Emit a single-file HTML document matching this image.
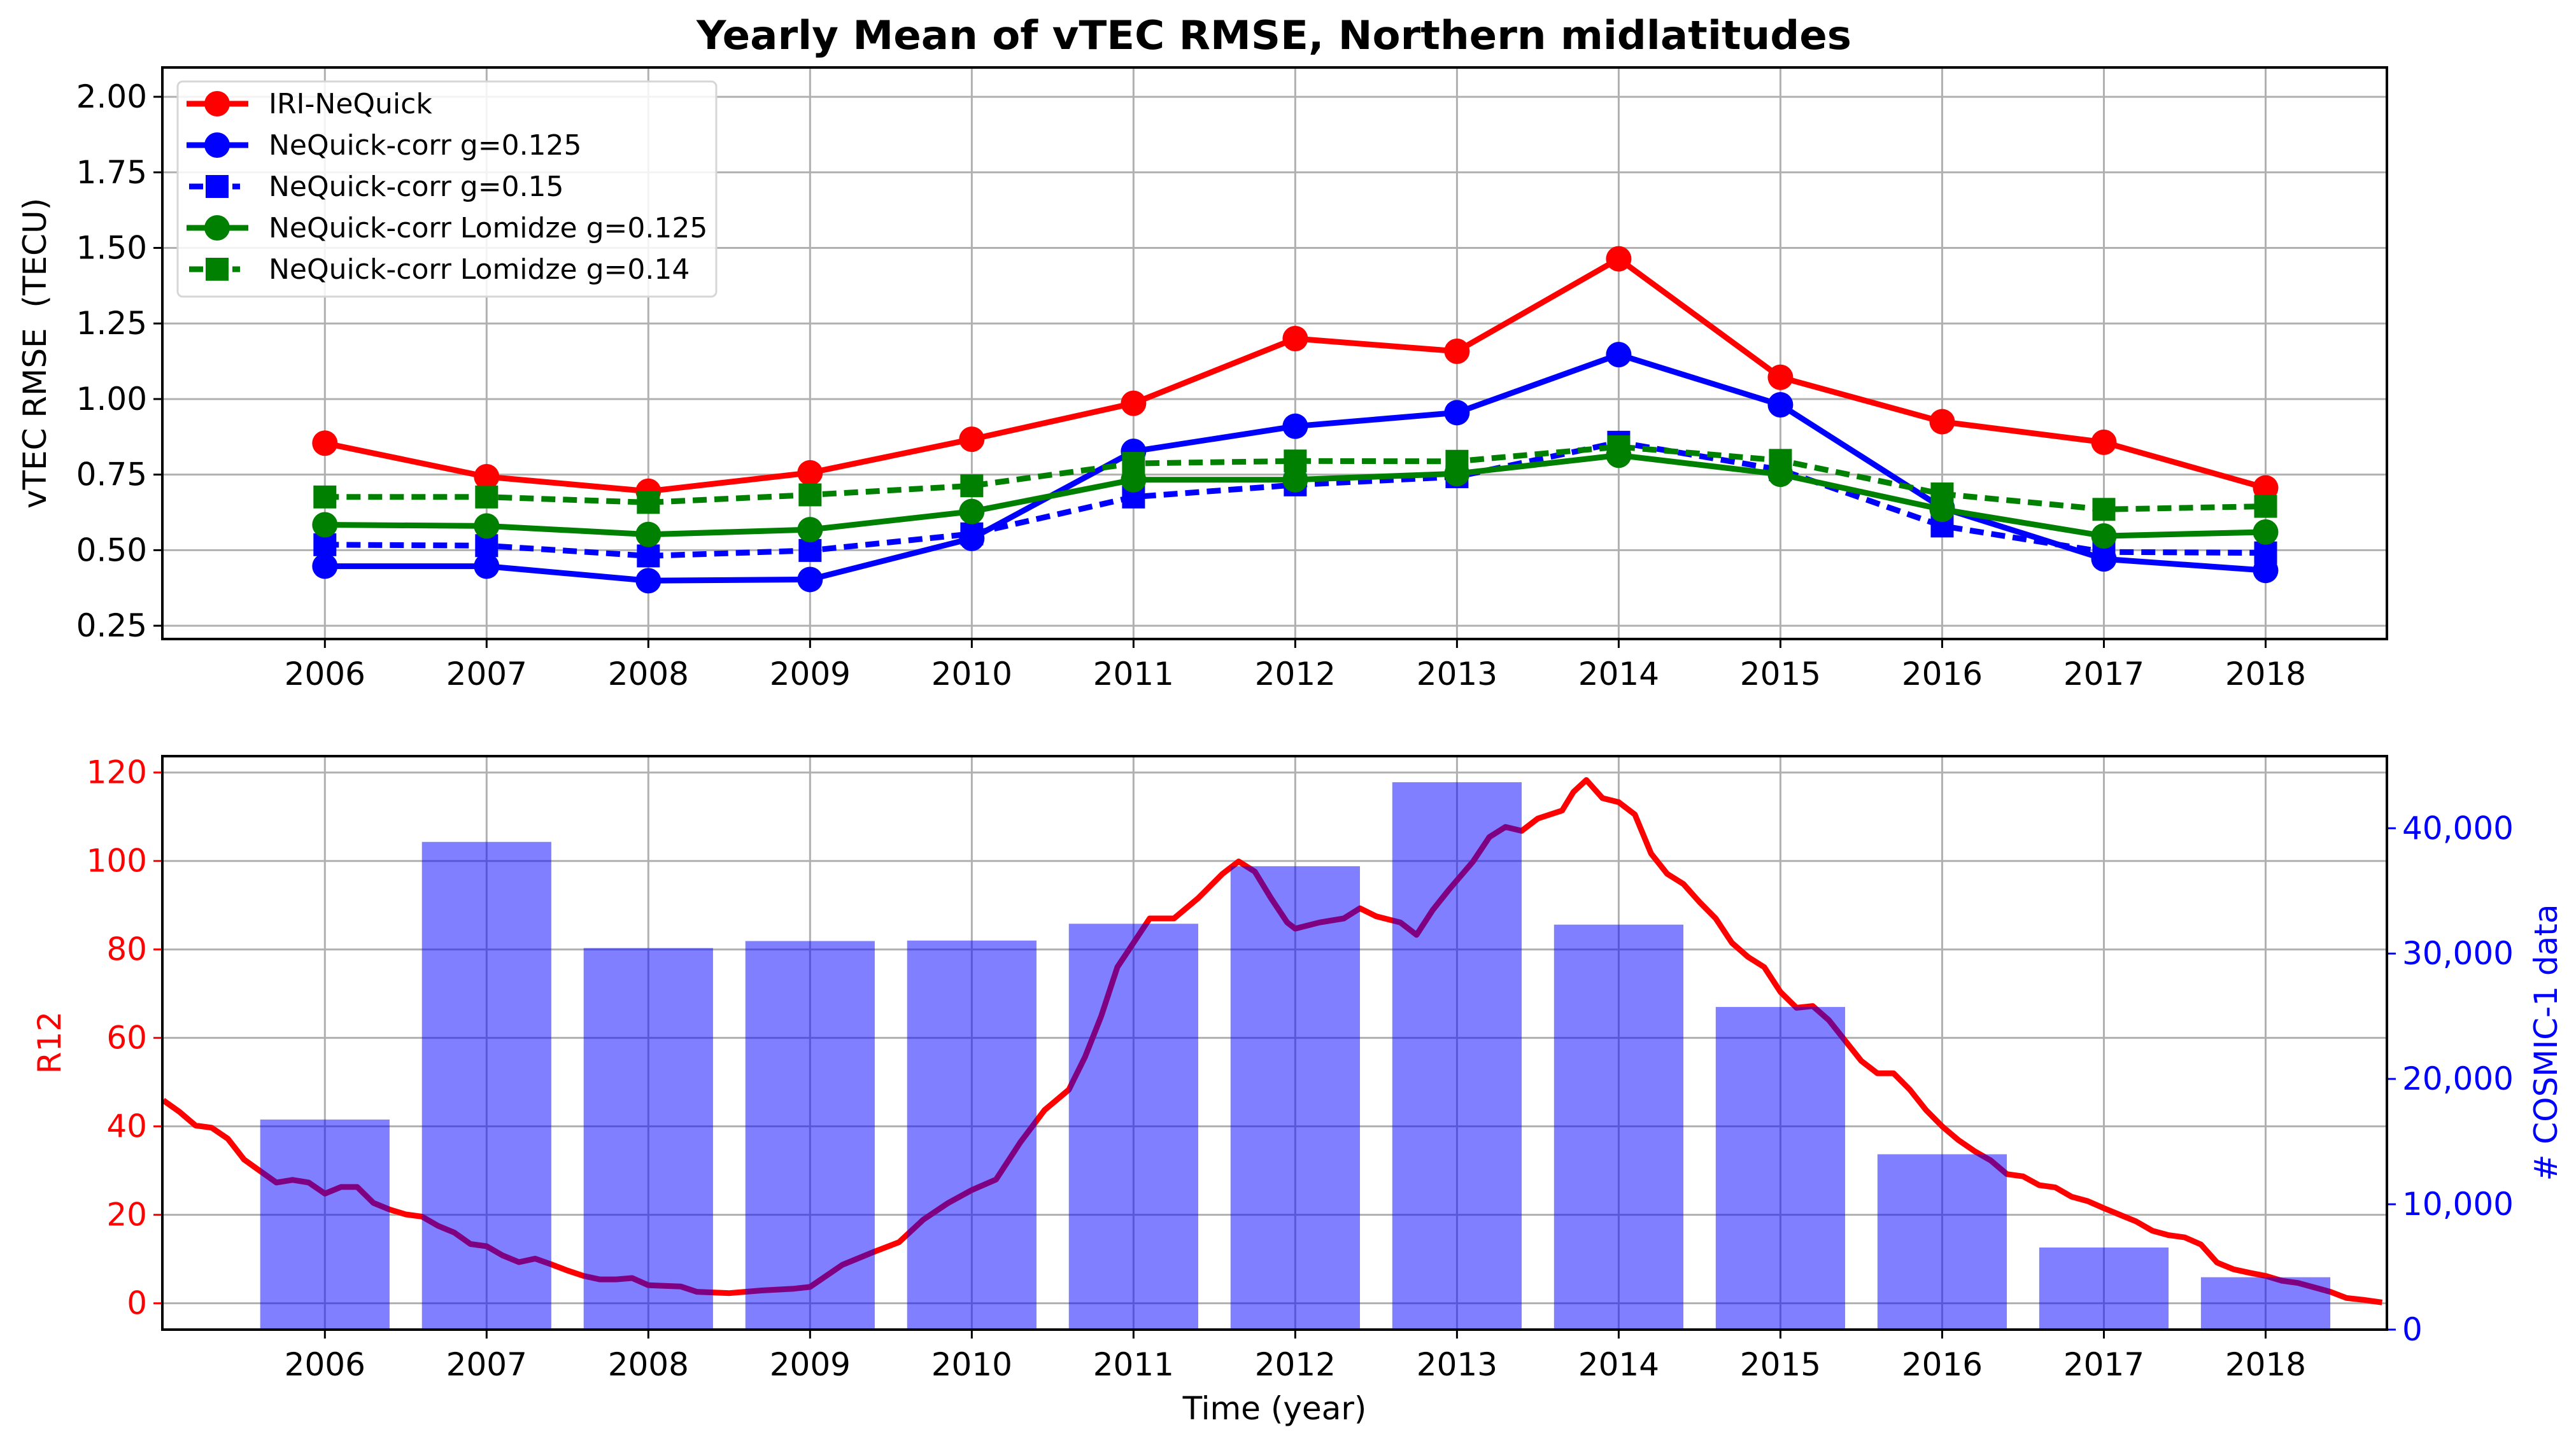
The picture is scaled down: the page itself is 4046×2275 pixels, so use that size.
<!DOCTYPE html>
<html><head><meta charset="utf-8"><style>
html,body{margin:0;padding:0;background:#fff;}
svg{display:block;font-family:"DejaVu Sans","Liberation Sans",sans-serif;}
</style></head><body>
<svg id="fig" xmlns="http://www.w3.org/2000/svg" width="4046" height="2275" viewBox="0 0 4046 2275">
<rect width="4046" height="2275" fill="#fff"/>
<text x="2001" y="77" text-anchor="middle" font-size="62" font-weight="bold" textLength="1814" lengthAdjust="spacingAndGlyphs">Yearly Mean of vTEC RMSE, Northern midlatitudes</text>
<g id="topPanel"></g>
<g id="botPanel"></g>
</svg>
<script>
const years = [2006,2007,2008,2009,2010,2011,2012,2013,2014,2015,2016,2017,2018];
const iriNeQuick = [0.854,0.743,0.695,0.756,0.867,0.986,1.200,1.158,1.464,1.072,0.925,0.857,0.706];
const corr125 = [0.447,0.447,0.399,0.403,0.539,0.827,0.910,0.955,1.147,0.981,0.640,0.471,0.433];
const corr15 = [0.518,0.515,0.481,0.499,0.554,0.676,0.716,0.743,0.857,0.766,0.580,0.494,0.491];
const lom125 = [0.584,0.580,0.552,0.568,0.628,0.733,0.733,0.753,0.814,0.751,0.635,0.547,0.560];
const lom14 = [0.676,0.676,0.658,0.683,0.713,0.787,0.795,0.794,0.842,0.797,0.686,0.635,0.645];
const topTicks = [0.25,0.50,0.75,1.00,1.25,1.50,1.75,2.00];
const topTickLabels = ["0.25","0.50","0.75","1.00","1.25","1.50","1.75","2.00"];
const cosmicCounts = [16760,38910,30440,31000,31040,32380,36970,43670,32310,25740,13990,6550,4180];
const r12Time = [2005.0,2005.1,2005.2,2005.3,2005.4,2005.5,2005.6,2005.7,2005.8,2005.9,2006.0,2006.1,2006.2,2006.3,2006.4,2006.5,2006.6,2006.7,2006.8,2006.9,2007.0,2007.1,2007.2,2007.3,2007.4,2007.5,2007.6,2007.7,2007.8,2007.9,2008.0,2008.2,2008.3,2008.5,2008.7,2008.9,2009.0,2009.2,2009.4,2009.55,2009.7,2009.85,2010.0,2010.15,2010.3,2010.45,2010.6,2010.7,2010.8,2010.9,2011.0,2011.1,2011.25,2011.4,2011.55,2011.65,2011.75,2011.85,2011.95,2012.0,2012.15,2012.3,2012.4,2012.5,2012.65,2012.75,2012.85,2012.95,2013.1,2013.2,2013.3,2013.4,2013.5,2013.65,2013.72,2013.8,2013.9,2014.0,2014.1,2014.2,2014.3,2014.4,2014.5,2014.6,2014.7,2014.8,2014.9,2015.0,2015.1,2015.2,2015.3,2015.4,2015.5,2015.6,2015.7,2015.8,2015.9,2016.0,2016.1,2016.2,2016.3,2016.4,2016.5,2016.6,2016.7,2016.8,2016.9,2017.0,2017.1,2017.2,2017.3,2017.4,2017.5,2017.6,2017.7,2017.8,2017.9,2018.0,2018.1,2018.2,2018.3,2018.4,2018.5,2018.6,2018.72];
const r12Values = [45.9,43.3,40.2,39.7,37.2,32.5,29.9,27.3,27.9,27.3,24.8,26.3,26.3,22.7,21.2,20.1,19.6,17.5,16.0,13.4,12.9,10.8,9.3,10.1,8.8,7.4,6.2,5.4,5.4,5.7,4.1,3.8,2.6,2.3,2.9,3.3,3.7,8.7,11.7,13.8,18.9,22.6,25.6,28.0,36.4,43.7,48.3,55.7,64.9,76.0,81.5,87.0,87.0,91.6,97.1,99.9,97.6,91.6,86.1,84.7,86.1,87.0,89.3,87.5,86.1,83.3,88.9,93.5,99.9,105.4,107.7,106.8,109.6,111.4,115.6,118.3,114.2,113.3,110.5,101.7,97.1,94.8,90.7,87.0,81.5,78.3,76.0,70.4,66.8,67.2,64.0,59.4,54.8,52.0,52.0,48.3,43.7,40.0,36.9,34.4,32.3,29.2,28.7,26.7,26.2,24.1,23.1,21.5,20.0,18.5,16.4,15.4,14.9,13.3,9.2,7.7,6.9,6.2,5.1,4.6,3.6,2.6,1.2,0.8,0.2];
const r12Ticks = [0,20,40,60,80,100,120];
const countTicks = [0,10000,20000,30000,40000];
const countTickLabels = ["0","10,000","20,000","30,000","40,000"];

const NS = "http://www.w3.org/2000/svg";
function mk(parent, tag, attrs, text){
  const e = document.createElementNS(NS, tag);
  for (const k in attrs) e.setAttribute(k, attrs[k]);
  if (text !== undefined) e.textContent = text;
  parent.appendChild(e); return e;
}
const L = 255, R = 3749, X0 = 2004.995, X1 = 2018.75;
const xs = v => L + (v - X0) / (X1 - X0) * (R - L);

// ---------- TOP PANEL ----------
const topG = document.getElementById('topPanel');
const T0 = 106, T1 = 1004, YMIN = 0.206, YMAX = 2.097;
const ysT = v => T1 - (v - YMIN) / (YMAX - YMIN) * (T1 - T0);
topTicks.forEach((t,i) => {
  const y = ysT(t);
  const g = mk(topG,'line',{x1:L,x2:R,y1:y,y2:y,stroke:'#b0b0b0','stroke-width':3});
  
  
  mk(topG,'line',{x1:L-14,x2:L,y1:y,y2:y,stroke:'#000','stroke-width':3});
  const tl = mk(topG,'text',{x:L-24,y:y+17,'text-anchor':'end','font-size':50}, topTickLabels[i]);
  
  
});
years.forEach(yr => {
  const x = xs(yr);
  const g = mk(topG,'line',{x1:x,x2:x,y1:T0,y2:T1,stroke:'#b0b0b0','stroke-width':3});
  
  
  mk(topG,'line',{x1:x,x2:x,y1:T1,y2:T1+14,stroke:'#000','stroke-width':3});
  const tl = mk(topG,'text',{x:x,y:T1+72,'text-anchor':'middle','font-size':50}, String(yr));
  
  
});
const series = [
  {name:'iri-nequick', vals:iriNeQuick, color:'#ff0000', dash:null, marker:'circle', label:'IRI-NeQuick'},
  {name:'nequick-corr-g0125', vals:corr125, color:'#0000ff', dash:null, marker:'circle', label:'NeQuick-corr g=0.125'},
  {name:'nequick-corr-g015', vals:corr15, color:'#0000ff', dash:'22 12', marker:'square', label:'NeQuick-corr g=0.15'},
  {name:'lomidze-g0125', vals:lom125, color:'#008000', dash:null, marker:'circle', label:'NeQuick-corr Lomidze g=0.125'},
  {name:'lomidze-g014', vals:lom14, color:'#008000', dash:'22 12', marker:'square', label:'NeQuick-corr Lomidze g=0.14'}
];
function marker(parent, type, x, y, color, r){
  if (type === 'circle') return mk(parent,'circle',{cx:x,cy:y,r:r,fill:color});
  return mk(parent,'rect',{x:x-r*0.9,y:y-r*0.9,width:r*1.8,height:r*1.8,fill:color});
}
series.forEach(s => {
  const g = mk(topG,'g',{});
  
  
  const pts = s.vals.map((v,i) => xs(years[i]).toFixed(1)+','+ysT(v).toFixed(1)).join(' ');
  const pl = mk(g,'polyline',{points:pts,fill:'none',stroke:s.color,'stroke-width':9,'stroke-linejoin':'round'});
  if (s.dash) pl.setAttribute('stroke-dasharray', s.dash);
  
  
  s.vals.forEach((v,i) => {
    const m = marker(g, s.marker, xs(years[i]), ysT(v), s.color, 20);
    
    
  });
});
mk(topG,'rect',{x:L,y:T0,width:R-L,height:T1-T0,fill:'none',stroke:'#000','stroke-width':4});
// legend
const lg = mk(topG,'g',{});


mk(lg,'rect',{x:279,y:128,width:846,height:338,rx:8,fill:'#fff','fill-opacity':0.85,stroke:'#d6d6d6','stroke-width':3});
series.forEach((s,i) => {
  const y = 163 + i*65;
  const e = mk(lg,'g',{});
  
  
  const ln = mk(e,'line',{x1:293,x2:390,y1:y,y2:y,stroke:s.color,'stroke-width':9});
  if (s.dash) { ln.setAttribute('x1',297); ln.setAttribute('x2',377); ln.setAttribute('stroke-dasharray','22 12'); }
  marker(e, s.marker, 341, y, s.color, 20);
  mk(e,'text',{x:422,y:y+15,'font-size':44}, s.label);
});
const yt = mk(topG,'text',{x:0,y:0,'font-size':50,'text-anchor':'middle',transform:'translate(72,555) rotate(-90)'}, 'vTEC RMSE\u00a0\u00a0(TECU)');



// ---------- BOTTOM PANEL ----------
const botG = document.getElementById('botPanel');
const B0 = 1188, B1 = 2089, RMIN = -5.95, RMAX = 123.7;
const ysR = v => B1 - (v - RMIN) / (RMAX - RMIN) * (B1 - B0);
const CMAX = (RMAX - RMIN) / 113.35 * 40000;
const ysC = v => B1 - v / CMAX * (B1 - B0);
r12Ticks.forEach(t => {
  const y = ysR(t);
  const g = mk(botG,'line',{x1:L,x2:R,y1:y,y2:y,stroke:'#b0b0b0','stroke-width':3});
  
  
  mk(botG,'line',{x1:L-14,x2:L,y1:y,y2:y,stroke:'#ff0000','stroke-width':3});
  const tl = mk(botG,'text',{x:L-24,y:y+17,'text-anchor':'end','font-size':50,fill:'#ff0000'}, String(t));
  
  
});
years.forEach(yr => {
  const x = xs(yr);
  const g = mk(botG,'line',{x1:x,x2:x,y1:B0,y2:B1,stroke:'#b0b0b0','stroke-width':3});
  
  
  mk(botG,'line',{x1:x,x2:x,y1:B1,y2:B1+14,stroke:'#000','stroke-width':3});
  const tl = mk(botG,'text',{x:x,y:B1+72,'text-anchor':'middle','font-size':50}, String(yr));
  
  
});
const rpts = r12Values.map((v,i) => xs(r12Time[i]).toFixed(1)+','+ysR(v).toFixed(1)).join(' ');
const rl = mk(botG,'polyline',{points:rpts,fill:'none',stroke:'#ff0000','stroke-width':9,'stroke-linejoin':'round'});


cosmicCounts.forEach((c,i) => {
  const x0 = xs(years[i]-0.4), x1 = xs(years[i]+0.4), y = ysC(c);
  const b = mk(botG,'rect',{x:x0,y:y,width:x1-x0,height:B1-y,fill:'#0000ff','fill-opacity':0.5});
  
  
});
countTicks.forEach((t,i) => {
  const y = ysC(t);
  mk(botG,'line',{x1:R,x2:R+14,y1:y,y2:y,stroke:'#0000ff','stroke-width':3});
  const tl = mk(botG,'text',{x:R+24,y:y+17,'font-size':50,fill:'#0000ff'}, countTickLabels[i]);
  
  
});
mk(botG,'rect',{x:L,y:B0,width:R-L,height:B1-B0,fill:'none',stroke:'#000','stroke-width':4});
const r12t = mk(botG,'text',{x:0,y:0,'font-size':50,'text-anchor':'middle',fill:'#ff0000',transform:'translate(95,1638) rotate(-90)'}, 'R12');


const ct = mk(botG,'text',{x:0,y:0,'font-size':50,'text-anchor':'middle',fill:'#0000ff',transform:'translate(4016,1638) rotate(-90)'}, '# COSMIC-1 data');


const xt = mk(botG,'text',{x:2002,y:2230,'font-size':50,'text-anchor':'middle'}, 'Time (year)');


</script>
</body></html>
